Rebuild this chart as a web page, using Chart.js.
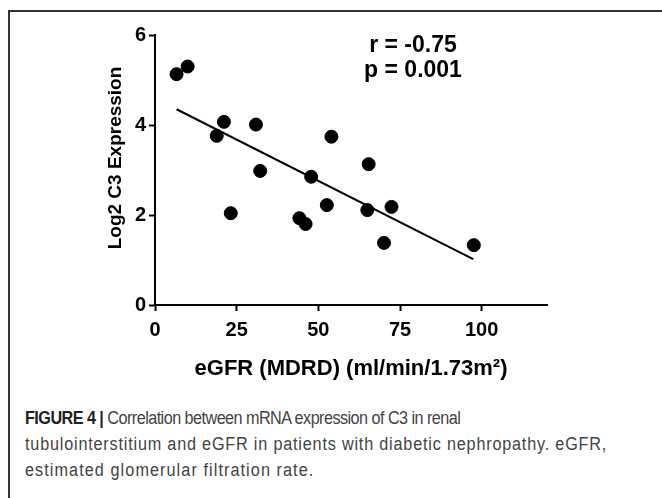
<!DOCTYPE html>
<html>
<head>
<meta charset="utf-8">
<script src="https://cdn.jsdelivr.net/npm/chart.js@4"></script>
<style>
  html, body { margin:0; padding:0; background:#fff; }
  body { width:662px; height:498px; position:relative; overflow:hidden; }
  .frame { position:absolute; left:8px; top:10px; width:720px; height:560px;
           border-left:2px solid #333; border-top:2px solid #333; }
  .plot { position:absolute; left:0; top:0; width:662px; height:400px; }
  .caption { position:absolute; left:25px; top:405px; width:700px;
             font-family:'Liberation Sans Narrow','Arial Narrow','Liberation Sans',Arial,sans-serif;
             font-size:18px; line-height:26px; color:#444; }
  .caption span { display:block; white-space:nowrap; transform-origin:0 50%; transform:scaleX(.9); }
  .caption b { color:#222; }
</style>
</head>
<body>
<div class="frame"></div>
<div class="plot"><canvas id="scatter" width="662" height="400"></canvas></div>
<div class="caption">
  <span style="letter-spacing:-0.6px"><b>FIGURE 4 |</b> Correlation between mRNA expression of C3 in renal</span>
  <span style="letter-spacing:0.9px">tubulointerstitium and eGFR in patients with diabetic nephropathy. eGFR,</span>
  <span style="letter-spacing:1.2px">estimated glomerular filtration rate.</span>
</div>
<script>
// ── Data ──────────────────────────────────────────────────────────────────────
const EGFR = [6.6, 10.0, 18.9, 21.1, 23.2, 30.9, 32.2, 44.2, 46.1, 47.8, 52.6, 54.0, 65.4, 65.0, 70.1, 72.4, 97.6];
const C3   = [5.13, 5.30, 3.76, 4.07, 2.04, 4.01, 2.98, 1.93, 1.80, 2.85, 2.22, 3.74, 3.13, 2.11, 1.38, 2.18, 1.33];
const FIT_X = [6.6, 97.4];
const FIT_Y = [4.35, 1.02];
const X_TICKS = [0, 25, 50, 75, 100];
const Y_TICKS = [0, 2, 4, 6];
const STATS = ['r = -0.75', 'p = 0.001'];

const FONT = "'Liberation Sans', Arial, sans-serif";

// ── Text overlay (y title + stats) ────────────────────────────────────────────
const overlay = {
  id: 'overlay',
  afterDraw(chart) {
    const ctx = chart.ctx, a = chart.chartArea;
    ctx.save();
    ctx.fillStyle = '#000';
    ctx.font = `bold 23px ${FONT}`;
    ctx.textAlign = 'center';
    ctx.textBaseline = 'alphabetic';
    ctx.fillText(STATS[0], a.left + 258, a.top + 17);
    ctx.fillText(STATS[1], a.left + 258, a.top + 42);

    ctx.font = `bold 19px ${FONT}`;
    ctx.translate(a.left - 39, a.top + 123);
    ctx.rotate(-Math.PI / 2);
    ctx.textBaseline = 'middle';
    ctx.fillText('Log2 C3 Expression', 0, 0);
    ctx.restore();
  }
};

const axisStyle = {
  grid: { drawOnChartArea:false, drawTicks:true, tickLength:6, tickWidth:2, tickColor:'#000' },
  border: { display:true, color:'#000', width:2 }
};

new Chart(document.getElementById('scatter').getContext('2d'), {
  type: 'scatter',
  data: {
    datasets: [
      {
        data: EGFR.map((x, i) => ({ x, y: C3[i] })),
        backgroundColor:'#000', borderColor:'#000',
        pointRadius:6.5, pointHoverRadius:6.5
      },
      {
        data: FIT_X.map((x, i) => ({ x, y: FIT_Y[i] })),
        showLine:true, borderColor:'#000', borderWidth:2,
        pointRadius:0, fill:false
      }
    ]
  },
  options: {
    responsive:false, animation:false,
    layout: { padding: { top:35, right:115, bottom:0, left:0 } },
    plugins: { legend:{ display:false }, tooltip:{ enabled:false } },
    scales: {
      x: {
        ...axisStyle,
        min:0, max:120,
        afterBuildTicks: s => { s.ticks = X_TICKS.map(v => ({ value:v })); },
        afterFit: s => { s.height = 95; },
        ticks: { color:'#000', padding:7, maxRotation:0, font:{ family:FONT, size:20, weight:'bold' } },
        title: {
          display:true, text:'eGFR (MDRD) (ml/min/1.73m²)', color:'#000',
          padding:{ top:0, bottom:18 }, font:{ family:FONT, size:22, weight:'bold' }
        }
      },
      y: {
        ...axisStyle,
        min:0, max:6,
        afterBuildTicks: s => { s.ticks = Y_TICKS.map(v => ({ value:v })); },
        afterFit: s => { s.width = 155; },
        ticks: { color:'#000', padding:3, font:{ family:FONT, size:20, weight:'bold' } }
      }
    }
  },
  plugins: [overlay]
});
</script>
</body>
</html>
